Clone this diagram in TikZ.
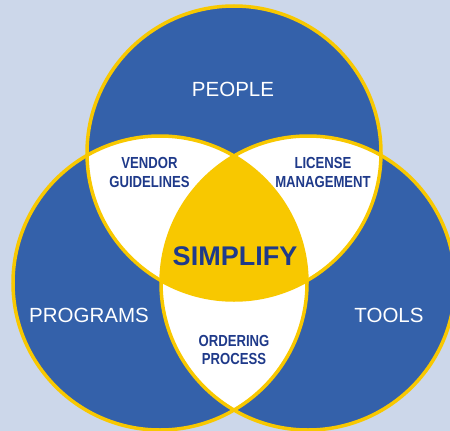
\documentclass[tikz,border=0pt]{standalone}
\usepackage{fontspec}
\setmainfont{Liberation Sans}
\newfontfamily\narrowsans{Liberation Sans}[FakeStretch=0.82]
\usepackage{xcolor}
\usepackage{tikz}

\definecolor{backblue}{HTML}{CCD7EA}
\definecolor{vennblue}{HTML}{3461AA}
\definecolor{vennyellow}{HTML}{F8C800}
\definecolor{navy}{HTML}{1F3A8A}

\tikzset{
	ring/.style = {draw=vennyellow, line width=3.5pt},
	big label/.style = {text=white, font=\fontsize{20.5}{24}\selectfont, inner sep=0pt},
	overlap label/.style = {text=navy, font=\narrowsans\bfseries\fontsize{16}{18.7}\selectfont, align=center, inner sep=0pt},
	core label/.style = {text=navy, font=\bfseries\fontsize{27}{30}\selectfont, inner sep=0pt}
}

\begin{document}
\begin{tikzpicture}[x=1pt, y=-1pt]
		%background and size
		\fill [backblue] (0,0) rectangle (450,431);
		\useasboundingbox (0,0) rectangle (450,431);
		
		%variables
		\def\r{147pt};
		
		%circle centres
		\coordinate (top) at (234,153);
		\coordinate (left) at (160,283);
		\coordinate (right) at (308,283);
		
		%blue discs
		\fill [vennblue] (top) circle [radius = \r];
		\fill [vennblue] (left) circle [radius = \r];
		\fill [vennblue] (right) circle [radius = \r];
		
		%pairwise overlaps
		\begin{scope}
			\clip (top) circle [radius = \r];
			\fill [white] (left) circle [radius = \r];
			\fill [white] (right) circle [radius = \r];
		\end{scope}
		\begin{scope}
			\clip (left) circle [radius = \r];
			\fill [white] (right) circle [radius = \r];
		\end{scope}
		
		%centre overlap
		\begin{scope}
			\clip (top) circle [radius = \r];
			\clip (left) circle [radius = \r];
			\fill [vennyellow] (right) circle [radius = \r];
		\end{scope}
		
		%outlines
		\draw [ring] (top) circle [radius = \r];
		\draw [ring] (left) circle [radius = \r];
		\draw [ring] (right) circle [radius = \r];
		
		%labels
		\node [big label] (people) at (233,89) {PEOPLE};
		\node [big label] (programs) at (89,315) {PROGRAMS};
		\node [big label] (tools) at (389,315) {TOOLS};
		
		\node [overlap label] (vendor) at (149.5,172.5) {VENDOR\\GUIDELINES};
		\node [overlap label] (license) at (323,172.5) {LICENSE\\MANAGEMENT};
		\node [overlap label] (ordering) at (234,350) {ORDERING\\PROCESS};
		
		\node [core label] (simplify) at (235,256.7) {SIMPLIFY};
	\end{tikzpicture}
\end{document}
